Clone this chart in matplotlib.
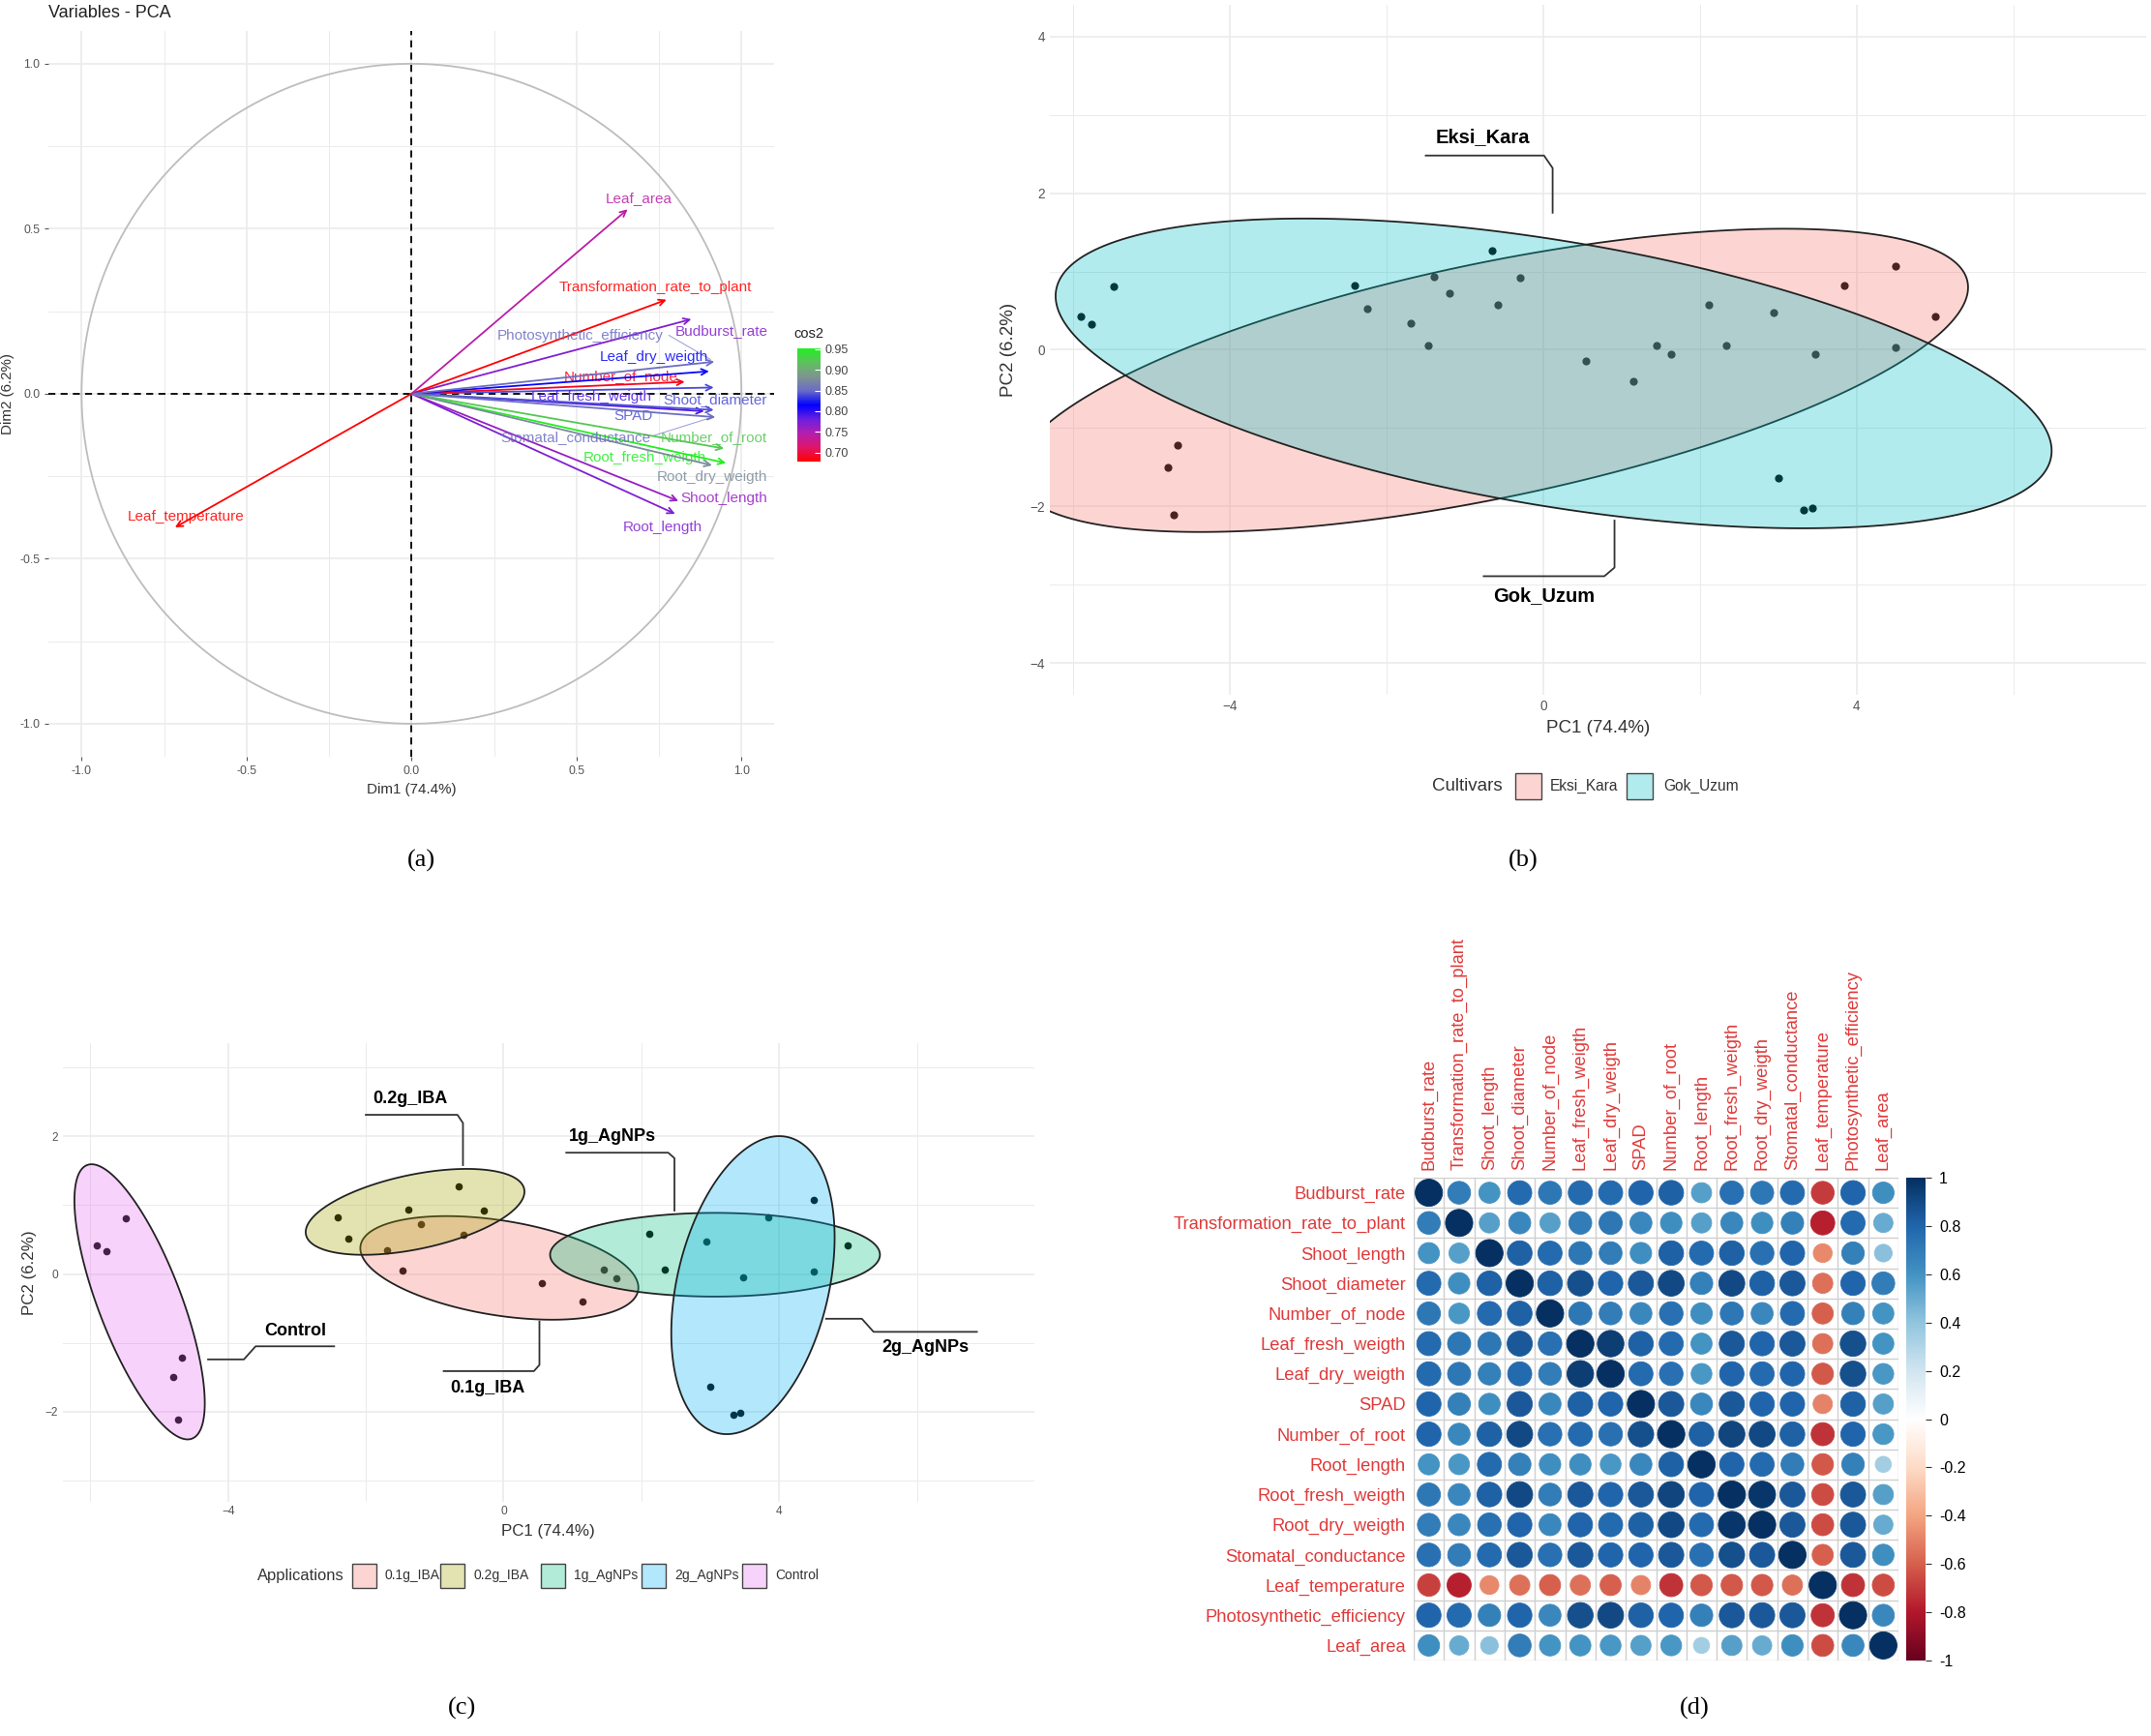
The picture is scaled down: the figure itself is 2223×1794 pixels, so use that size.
import numpy as np
import matplotlib
matplotlib.use("Agg")
import matplotlib.pyplot as plt
from matplotlib.colors import LinearSegmentedColormap, Normalize, to_rgba
from matplotlib.patches import Circle, Rectangle, Polygon
from matplotlib.cm import ScalarMappable

plt.rcParams['font.family'] = ['Liberation Sans', 'DejaVu Sans']

# ---- data: PCA variable loadings (panel a)
var_names = ["Budburst_rate", "Transformation_rate_to_plant", "Shoot_length", "Shoot_diameter",
             "Number_of_node", "Leaf_fresh_weigth", "Leaf_dry_weigth", "SPAD", "Number_of_root",
             "Root_length", "Root_fresh_weigth", "Root_dry_weigth", "Stomatal_conductance",
             "Leaf_temperature", "Photosynthetic_efficiency", "Leaf_area"]
dim1 = [0.848, 0.773, 0.809, 0.916, 0.828, 0.887, 0.902, 0.916, 0.947,
        0.799, 0.953, 0.911, 0.921, -0.717, 0.918, 0.655]
dim2 = [0.226, 0.285, -0.325, 0.019, 0.036, -0.053, 0.068, -0.049, -0.166,
        -0.364, -0.210, -0.217, -0.071, -0.405, 0.097, 0.559]

# ---- data: PCA individuals (panels b, c)
pc1 = [-5.90, -5.77, -5.48, -4.67, -4.79, -4.72,
       -2.41, -2.25, -1.39, -0.65, -0.29, -1.20,
       -1.69, -1.47, -0.58, 0.55, 1.15, 1.63,
       1.45, 2.11, 2.34, 3.47, 5.00, 4.50,
       4.50, 3.84, 2.94, 3.00, 3.33, 3.43]
pc2 = [0.42, 0.33, 0.81, -1.22, -1.50, -2.11,
       0.82, 0.52, 0.93, 1.27, 0.92, 0.72,
       0.34, 0.05, 0.57, -0.14, -0.40, -0.06,
       0.06, 0.58, 0.06, -0.05, 0.42, 0.03,
       1.07, 0.82, 0.47, -1.64, -2.05, -2.02]
application = (["Control"] * 6 + ["0.2g_IBA"] * 6 + ["0.1g_IBA"] * 6
               + ["1g_AgNPs"] * 6 + ["2g_AgNPs"] * 6)
cultivar = ["Gok_Uzum"] * 3 + ["Eksi_Kara"] * 3 \
    + ["Gok_Uzum", "Eksi_Kara", "Gok_Uzum", "Gok_Uzum", "Eksi_Kara", "Eksi_Kara"] \
    + ["Gok_Uzum", "Eksi_Kara", "Eksi_Kara", "Gok_Uzum", "Gok_Uzum", "Eksi_Kara"] \
    + ["Gok_Uzum", "Eksi_Kara", "Gok_Uzum", "Eksi_Kara", "Eksi_Kara", "Gok_Uzum"] \
    + ["Eksi_Kara"] * 3 + ["Gok_Uzum"] * 3
cultivar_levels = ["Eksi_Kara", "Gok_Uzum"]
app_levels = ["0.1g_IBA", "0.2g_IBA", "1g_AgNPs", "2g_AgNPs", "Control"]

# ---- data: correlation matrix (panel d)
corr = [
    [1.00, 0.70, 0.60, 0.78, 0.72, 0.78, 0.78, 0.80, 0.82, 0.55, 0.75, 0.72, 0.78, -0.70, 0.80, 0.62],
    [0.70, 1.00, 0.55, 0.65, 0.55, 0.70, 0.72, 0.65, 0.62, 0.55, 0.65, 0.62, 0.68, -0.78, 0.78, 0.50],
    [0.60, 0.55, 1.00, 0.82, 0.78, 0.72, 0.70, 0.62, 0.82, 0.78, 0.82, 0.75, 0.80, -0.48, 0.68, 0.42],
    [0.78, 0.62, 0.82, 1.00, 0.82, 0.88, 0.80, 0.85, 0.90, 0.68, 0.90, 0.82, 0.85, -0.55, 0.80, 0.70],
    [0.72, 0.58, 0.78, 0.82, 1.00, 0.72, 0.70, 0.65, 0.75, 0.62, 0.72, 0.65, 0.78, -0.60, 0.68, 0.60],
    [0.78, 0.72, 0.72, 0.85, 0.75, 1.00, 0.95, 0.82, 0.78, 0.60, 0.85, 0.80, 0.85, -0.55, 0.88, 0.60],
    [0.78, 0.72, 0.68, 0.78, 0.70, 0.95, 1.00, 0.78, 0.75, 0.58, 0.80, 0.78, 0.80, -0.62, 0.88, 0.58],
    [0.80, 0.68, 0.62, 0.85, 0.65, 0.82, 0.80, 1.00, 0.85, 0.65, 0.85, 0.80, 0.80, -0.50, 0.82, 0.55],
    [0.80, 0.65, 0.82, 0.90, 0.75, 0.78, 0.75, 0.88, 1.00, 0.82, 0.92, 0.90, 0.82, -0.72, 0.80, 0.58],
    [0.60, 0.58, 0.78, 0.68, 0.62, 0.62, 0.58, 0.65, 0.82, 1.00, 0.80, 0.78, 0.70, -0.62, 0.68, 0.35],
    [0.72, 0.65, 0.82, 0.90, 0.70, 0.85, 0.80, 0.85, 0.92, 0.80, 1.00, 0.97, 0.85, -0.65, 0.85, 0.55],
    [0.70, 0.65, 0.75, 0.80, 0.65, 0.80, 0.78, 0.82, 0.90, 0.78, 0.97, 1.00, 0.85, -0.65, 0.85, 0.50],
    [0.75, 0.70, 0.78, 0.85, 0.75, 0.85, 0.80, 0.80, 0.85, 0.75, 0.88, 0.85, 1.00, -0.60, 0.85, 0.62],
    [-0.68, -0.78, -0.48, -0.55, -0.60, -0.55, -0.60, -0.50, -0.72, -0.62, -0.62, -0.62, -0.55, 1.00, -0.72, -0.65],
    [0.80, 0.78, 0.68, 0.80, 0.65, 0.88, 0.90, 0.82, 0.80, 0.68, 0.85, 0.85, 0.85, -0.72, 1.00, 0.65],
    [0.62, 0.50, 0.42, 0.70, 0.60, 0.60, 0.58, 0.55, 0.58, 0.35, 0.55, 0.50, 0.62, -0.65, 0.65, 1.00],
]

W, H = 2223, 1794
fig = plt.figure(figsize=(W / 100, H / 100), dpi=100)
GRID = '#EBEBEB'
TICK = '#555555'


def fax(x0, y0, x1, y1):
    # axes from a pixel box of the figure (top-left origin)
    return fig.add_axes([x0 / W, 1 - y1 / H, (x1 - x0) / W, (y1 - y0) / H])


def minimal(ax, xmaj, xmin, ymaj, ymin, size):
    ax.set_xticks(xmaj)
    ax.set_xticks(xmin, minor=True)
    ax.set_yticks(ymaj)
    ax.set_yticks(ymin, minor=True)
    ax.grid(which='major', color=GRID, lw=1.2)
    ax.grid(which='minor', color=GRID, lw=0.7)
    ax.set_axisbelow(True)
    for s in ax.spines.values():
        s.set_visible(False)
    ax.tick_params(which='both', length=0, labelsize=size, labelcolor=TICK)


def mvee(P, tol=1e-5):
    # minimum volume enclosing ellipse (Khachiyan)
    N, d = P.shape
    Q = np.vstack([P.T, np.ones(N)])
    u = np.ones(N) / N
    err = 1.0
    while err > tol:
        X = Q @ np.diag(u) @ Q.T
        M = np.einsum('ij,ji->i', Q.T @ np.linalg.inv(X), Q)
        j = np.argmax(M)
        step = (M[j] - d - 1) / ((d + 1) * (M[j] - 1))
        nu = (1 - step) * u
        nu[j] += step
        err = np.linalg.norm(nu - u)
        u = nu
    c = u @ P
    A = np.linalg.inv(P.T @ np.diag(u) @ P - np.outer(c, c)) / d
    return c, A


def mark_ellipse(ax, pts, color, expand):
    c, A = mvee(pts)
    vals, vecs = np.linalg.eigh(A)
    ax_len = 1 / np.sqrt(vals) + expand
    t = np.linspace(0, 2 * np.pi, 300)
    xy = (vecs @ np.vstack([np.cos(t) * ax_len[0], np.sin(t) * ax_len[1]])).T + c
    ax.add_patch(Polygon(xy, closed=True, fc=to_rgba(color, 0.3), ec='#222222', lw=1.3, zorder=3))


def label_line(ax, xs, ys, text, tx, ty, size):
    ax.plot(xs, ys, color='#333333', lw=1.3, zorder=5)
    ax.text(tx, ty, text, fontsize=size, fontweight='bold', ha='center', va='center', zorder=6)


def legend(title, items, colors, tx, lx, bx, yc, box, size_t, size_l):
    fig.text(tx / W, 1 - yc / H, title, fontsize=size_t, ha='left', va='center', color='#333333')
    for it, col, l, b in zip(items, colors, lx, bx):
        fig.add_artist(Rectangle((b / W, 1 - (yc + box / 2) / H), box / W, box / H,
                                 transform=fig.transFigure, fc=to_rgba(col, 0.3),
                                 ec='#444444', lw=1.0))
        fig.text(l / W, 1 - yc / H, it, fontsize=size_l, ha='left', va='center', color='#333333')


# ================= panel (a)
cos2 = np.array(dim1) ** 2 + np.array(dim2) ** 2
cmap_c = LinearSegmentedColormap.from_list(
    'cos2', ['#FF0000', '#E0156A', '#B21FB0', '#6A1FE0', '#0000FF', '#6A6AC8', '#7F9490', '#5FC05F', '#22EE22'])
norm_c = Normalize(cos2.min(), cos2.max())

lab_xy = {
    "Budburst_rate": (0.941, 0.190), "Transformation_rate_to_plant": (0.739, 0.321),
    "Shoot_length": (0.947, -0.318), "Shoot_diameter": (0.921, -0.018),
    "Number_of_node": (0.634, 0.053), "Leaf_fresh_weigth": (0.546, -0.010),
    "Leaf_dry_weigth": (0.736, 0.112), "SPAD": (0.673, -0.068),
    "Number_of_root": (0.916, -0.133), "Root_length": (0.762, -0.404),
    "Root_fresh_weigth": (0.707, -0.193), "Root_dry_weigth": (0.911, -0.253),
    "Stomatal_conductance": (0.497, -0.133), "Leaf_temperature": (-0.684, -0.373),
    "Photosynthetic_efficiency": (0.512, 0.177), "Leaf_area": (0.689, 0.592),
}

axa = fax(50.2, 31.8, 800.4, 782)
axa.set_xlim(-1.1, 1.1)
axa.set_ylim(-1.1, 1.1)
minimal(axa, [-1, -0.5, 0, 0.5, 1], [-0.75, -0.25, 0.25, 0.75],
        [-1, -0.5, 0, 0.5, 1], [-0.75, -0.25, 0.25, 0.75], 8.8)
axa.set_xticklabels(['-1.0', '-0.5', '0.0', '0.5', '1.0'])
axa.set_yticklabels(['-1.0', '-0.5', '0.0', '0.5', '1.0'])
axa.tick_params(which='major', length=3, color='#555555')
t = np.linspace(0, 2 * np.pi, 400)
axa.plot(np.cos(t), np.sin(t), color='#BDBDBD', lw=1.3)
axa.axhline(0, color='black', ls=(0, (4, 3)), lw=1.3)
axa.axvline(0, color='black', ls=(0, (4, 3)), lw=1.3)
for name, x, y, c2 in zip(var_names, dim1, dim2, cos2):
    col = cmap_c(norm_c(c2))
    axa.annotate('', xy=(x, y), xytext=(0, 0),
                 arrowprops=dict(arrowstyle='->,head_length=0.45,head_width=0.22',
                                 color=col, lw=1.3, shrinkA=0, shrinkB=0))
    lx, ly = lab_xy[name]
    axa.text(lx, ly, name, color=col, fontsize=11, ha='center', va='center', alpha=0.85)
# repel segments
axa.plot([0.78, 0.906], [0.177, 0.104], color=cmap_c(norm_c(cos2[14])), lw=0.7, alpha=0.7)
axa.plot([0.73, 0.915], [-0.128, -0.070], color=cmap_c(norm_c(cos2[12])), lw=0.7, alpha=0.7)
axa.set_xlabel('Dim1 (74.4%)', fontsize=10.9, color='#333333', labelpad=4)
axa.set_ylabel('Dim2 (6.2%)', fontsize=10.9, color='#333333', labelpad=4)
fig.text(50 / W, 1 - 14 / H, 'Variables - PCA', fontsize=13, ha='left', va='center', color='#222222')

cax_c = fax(824, 360, 848, 477)
cb = fig.colorbar(ScalarMappable(norm=norm_c, cmap=cmap_c), cax=cax_c,
                  ticks=[0.70, 0.75, 0.80, 0.85, 0.90, 0.95])
cb.outline.set_visible(False)
cax_c.set_yticklabels(['0.70', '0.75', '0.80', '0.85', '0.90', '0.95'])
cax_c.tick_params(length=4, color='white', width=0.8, labelsize=9, labelcolor='#444444', direction='in')
fig.text(836 / W, 1 - 345 / H, 'cos2', fontsize=10.5, ha='center', va='center', color='#222222')

# ================= panel (b)
P = np.column_stack([pc1, pc2])
axb = fax(1084.9, 5.3, 2218.2, 717.7)
axb.set_xlim(-6.3, 7.7)
axb.set_ylim(-4.4, 4.4)
minimal(axb, [-4, 0, 4], [-6, -2, 2, 6], [-4, -2, 0, 2, 4], [-3, -1, 1, 3], 9.8)
axb.scatter(pc1, pc2, s=24, color='black', zorder=2)
cult_cols = ['#F8766D', '#00BFC4']
for lev, col in zip(cultivar_levels, cult_cols):
    mask = np.array([c == lev for c in cultivar])
    mark_ellipse(axb, P[mask], col, 0.25)
label_line(axb, [-1.50, 0.01, 0.12, 0.12], [2.48, 2.48, 2.32, 1.75], 'Eksi_Kara', -0.77, 2.72, 14.5)
label_line(axb, [-0.76, 0.78, 0.91, 0.91], [-2.89, -2.89, -2.78, -2.18], 'Gok_Uzum', 0.01, -3.14, 14.5)
axb.set_xlabel('PC1 (74.4%)', fontsize=13.5, color='#333333', labelpad=5)
axb.set_ylabel('PC2 (6.2%)', fontsize=13.5, color='#333333', labelpad=10)
legend('Cultivars', cultivar_levels, cult_cols, 1480, [1602, 1719], [1566, 1681], 812, 27, 13.5, 11.2)

# ================= panel (c)
axc = fax(64.8, 1078, 1068.7, 1551.5)
axc.set_xlim(-6.4, 7.7)
axc.set_ylim(-3.3, 3.35)
minimal(axc, [-4, 0, 4], [-6, -2, 2, 6], [-2, 0, 2], [-3, -1, 1, 3], 8.6)
axc.scatter(pc1, pc2, s=20, color='black', zorder=2)
app_cols = ['#F8766D', '#A3A500', '#00BF7D', '#00B0F6', '#E76BF3']
for lev, col in zip(app_levels, app_cols):
    mask = np.array([a == lev for a in application])
    mark_ellipse(axc, P[mask], col, 0.27)
label_line(axc, [-2.0, -0.67, -0.59, -0.59], [2.31, 2.31, 2.19, 1.58], '0.2g_IBA', -1.35, 2.54, 13)
label_line(axc, [0.91, 2.39, 2.48, 2.48], [1.76, 1.76, 1.68, 0.92], '1g_AgNPs', 1.58, 2.0, 13)
label_line(axc, [-2.46, -3.60, -3.77, -4.29], [-1.05, -1.05, -1.24, -1.24], 'Control', -3.02, -0.83, 13)
label_line(axc, [-0.87, 0.44, 0.52, 0.52], [-1.41, -1.41, -1.32, -0.69], '0.1g_IBA', -0.23, -1.65, 13)
label_line(axc, [6.87, 5.37, 5.20, 4.68], [-0.84, -0.84, -0.65, -0.65], '2g_AgNPs', 6.13, -1.06, 13)
axc.set_xlabel('PC1 (74.4%)', fontsize=12.2, color='#333333', labelpad=5)
axc.set_ylabel('PC2 (6.2%)', fontsize=12.2, color='#333333', labelpad=6)
legend('Applications', app_levels, app_cols, 266, [397, 489, 593, 697, 801],
       [364, 455, 559, 663, 767], 1628, 25, 11.9, 10)

# ================= panel (d)
rdbu = LinearSegmentedColormap.from_list(
    'rdbu', ["#67001F", "#B2182B", "#D6604D", "#F4A582", "#FDDBC7", "#FFFFFF",
             "#D1E5F0", "#92C5DE", "#4393C3", "#2166AC", "#053061"])
norm_r = Normalize(-1, 1)
n = len(var_names)
axd = fax(1461, 1217, 1962, 1716)
axd.set_xlim(0, n)
axd.set_ylim(n, 0)
for k in range(n + 1):
    axd.plot([0, n], [k, k], color='#CFCFCF', lw=1.0, zorder=1)
    axd.plot([k, k], [0, n], color='#CFCFCF', lw=1.0, zorder=1)
for i, row in enumerate(corr):
    for j, r in enumerate(row):
        col = rdbu(norm_r(r))
        axd.add_patch(Circle((j + 0.5, i + 0.5), 0.45 * np.sqrt(abs(r)), fc=col, ec=col, lw=0.6, zorder=2))
for s in axd.spines.values():
    s.set_visible(False)
axd.set_yticks(np.arange(n) + 0.5)
axd.set_yticklabels(var_names, fontsize=13.2, color='#E03A3A')
axd.xaxis.tick_top()
axd.set_xticks(np.arange(n) + 0.5)
axd.set_xticklabels(var_names, fontsize=13.2, color='#E03A3A', rotation=90)
axd.tick_params(length=0, pad=6)

cax_d = fax(1970, 1217, 1990, 1716)
cbd = fig.colorbar(ScalarMappable(norm=norm_r, cmap=rdbu), cax=cax_d, ticks=np.linspace(-1, 1, 11))
cbd.outline.set_visible(False)
cax_d.set_yticklabels(['-1', '-0.8', '-0.6', '-0.4', '-0.2', '0', '0.2', '0.4', '0.6', '0.8', '1'])
cax_d.tick_params(length=4, width=0.8, color='#333333', labelsize=11.5, pad=6)

# ================= panel letters
for txt, x, y in [('(a)', 435, 889), ('(b)', 1574, 889), ('(c)', 478, 1765), ('(d)', 1751, 1765)]:
    fig.text(x / W, 1 - y / H, txt, fontsize=19, ha='center', va='center',
             family=['Liberation Serif', 'DejaVu Serif'])

fig.savefig('out.png', dpi=100)
